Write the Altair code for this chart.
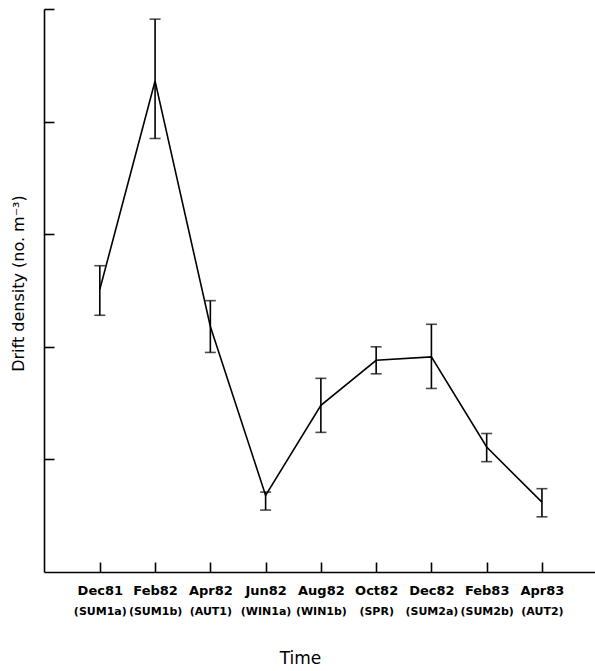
import altair as alt
import pandas as pd

dates = ["Dec81", "Feb82", "Apr82", "Jun82", "Aug82", "Oct82", "Dec82", "Feb83", "Apr83"]
seasons = ["(SUM1a)", "(SUM1b)", "(AUT1)", "(WIN1a)", "(WIN1b)", "(SPR)", "(SUM2a)", "(SUM2b)", "(AUT2)"]
density = [2.51, 4.36, 2.18, 0.68, 1.48, 1.88, 1.91, 1.11, 0.62]
lower = [2.28, 3.85, 1.95, 0.55, 1.24, 1.76, 1.63, 0.98, 0.49]
upper = [2.72, 4.91, 2.41, 0.71, 1.72, 2.00, 2.20, 1.23, 0.74]

df = pd.DataFrame({
    "idx": list(range(len(dates))),
    "date": dates,
    "season": seasons,
    "density": density,
    "lower": lower,
    "upper": upper,
})

W, H = 551, 563
FONT = "DejaVu Sans"
xscale = alt.Scale(domain=[-1.01, 8.96], nice=False, zero=False)
yscale = alt.Scale(domain=[0, 5], nice=False)
xvals = list(range(len(dates)))


def arr_expr(items):
    return "[" + ",".join('"%s"' % s for s in items) + "][datum.value]"


base = alt.Chart(df)

line = base.mark_line(color="black", strokeWidth=1.6).encode(
    x=alt.X("idx:Q", scale=xscale,
            axis=alt.Axis(orient="bottom", values=xvals, labelExpr=arr_expr(dates),
                          ticks=False, tickSize=0, grid=False, domain=True,
                          domainColor="black", domainWidth=1.6, labelOverlap=False,
                          labelFont=FONT, labelFontSize=13, labelFontWeight="bold",
                          labelColor="black", labelPadding=12, title=None)),
    y=alt.Y("density:Q", scale=yscale,
            axis=alt.Axis(orient="left", labels=False, ticks=False, tickSize=0,
                          grid=False, domain=True, domainColor="black", domainWidth=1.6,
                          title="Drift density (no. m⁻³)", titleFont=FONT,
                          titleFontSize=16, titleFontWeight="normal", titleColor="black",
                          titleX=-26, titleY=274, titleAngle=270,
                          titleAlign="center", titleBaseline="middle")),
)

bars = base.mark_rule(color="black", strokeWidth=1.6).encode(
    x=alt.X("idx:Q", scale=xscale,
            axis=alt.Axis(orient="bottom", values=xvals, labelExpr=arr_expr(seasons),
                          ticks=False, tickSize=0, grid=False, domain=False,
                          labelOverlap=False,
                          labelFont=FONT, labelFontSize=11, labelFontWeight="bold",
                          labelColor="black", labelPadding=33,
                          title="Time", titleFont=FONT, titleFontSize=17,
                          titleFontWeight="normal", titleColor="black",
                          titleX=256, titleY=86, titleAlign="center",
                          titleBaseline="middle")),
    y=alt.Y("lower:Q", scale=yscale,
            axis=alt.Axis(orient="right", offset=-W, values=[1, 2, 3, 4, 5],
                          labels=False, ticks=True, tickSize=10, tickColor="black",
                          tickWidth=1.6, grid=False, domain=False, title=None)),
    y2="upper:Q",
)

cap_lo = base.mark_tick(color="black", thickness=1.6, size=11, orient="horizontal").encode(
    x=alt.X("idx:Q", scale=xscale,
            axis=alt.Axis(orient="top", offset=-H, values=xvals, labels=False,
                          ticks=True, tickSize=10, tickColor="black", tickWidth=1.6,
                          grid=False, domain=False, title=None)),
    y=alt.Y("lower:Q", scale=yscale, axis=None),
)

cap_hi = base.mark_tick(color="black", thickness=1.6, size=11, orient="horizontal").encode(
    x=alt.X("idx:Q", scale=xscale, axis=None),
    y=alt.Y("upper:Q", scale=yscale, axis=None),
)

chart = alt.layer(line, bars, cap_lo, cap_hi).resolve_axis(
    x="independent", y="independent"
).properties(
    width=W, height=H,
    autosize=alt.AutoSizeParams(type="none"),
    padding={"left": 44, "top": 9, "right": 0, "bottom": 99},
    background="white",
).configure_view(stroke=None)

chart.save("out.html", embed_options={"renderer": "svg", "actions": False})
